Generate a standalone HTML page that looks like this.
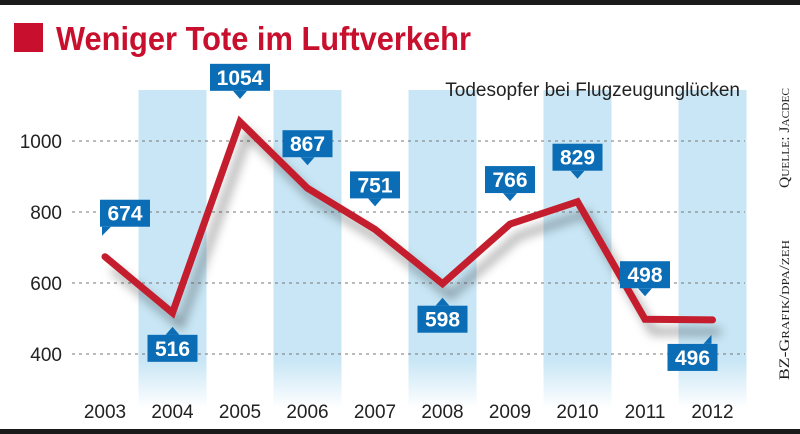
<!DOCTYPE html>
<html><head><meta charset="utf-8">
<style>
html,body{margin:0;padding:0;background:#fff;}
svg{display:block;font-family:"Liberation Sans",sans-serif;}
</style></head>
<body>
<svg id="chart" width="800" height="434" viewBox="0 0 800 434">
<defs>
 <linearGradient id="bandg" x1="0" y1="0" x2="0" y2="1">
  <stop offset="0" stop-color="#c8e6f5"/><stop offset="0.85" stop-color="#c8e6f5"/><stop offset="1" stop-color="#c8e6f5" stop-opacity="0"/>
 </linearGradient>
 <filter id="shadow" x="-10%" y="-10%" width="130%" height="140%"><feGaussianBlur stdDeviation="5"/></filter>
</defs>
<rect x="0" y="0" width="800" height="5" fill="#1a1a1a"/>
<rect x="0" y="429" width="800" height="5" fill="#1a1a1a"/>
<rect x="14" y="23" width="29" height="29" fill="#c8102e"/>
<text x="56" y="50" font-size="33" font-weight="bold" fill="#c8102e" textLength="415" lengthAdjust="spacingAndGlyphs">Weniger Tote im Luftverkehr</text>
<g id="bands"></g>
<text x="740" y="96" font-size="19" fill="#222" text-anchor="end">Todesopfer bei Flugzeugunglücken</text>
<g id="grid"></g>
<g id="yticks"></g>
<g id="xticks"></g>
<g id="series"></g>
<g id="labels"></g>
<text transform="translate(789,188) rotate(-90)" font-family="Liberation Serif,serif" font-size="15" font-variant="small-caps" fill="#222" textLength="100" lengthAdjust="spacingAndGlyphs">Quelle: Jacdec</text>
<text transform="translate(789,380) rotate(-90)" font-family="Liberation Serif,serif" font-size="15" font-variant="small-caps" fill="#222" textLength="140" lengthAdjust="spacingAndGlyphs">BZ-Grafik/dpa/zeh</text>
</svg>
<script>
const years = ["2003","2004","2005","2006","2007","2008","2009","2010","2011","2012"];
const deaths = [674,516,1054,867,751,598,766,829,498,496];
const yTicks = [400,600,800,1000];
const labelSide = ["above","below","above","above","above","below","above","above","above","below"];

const NS="http://www.w3.org/2000/svg";
function xs(i){return 105+i*67.5;}
function ys(v){return 141+(1000-v)*0.355;}
function mk(tag,attrs,parent){const e=document.createElementNS(NS,tag);for(const k in attrs)e.setAttribute(k,attrs[k]);document.getElementById(parent).appendChild(e);return e;}

years.forEach((y,i)=>{
  if(i%2===1){
    const b=mk("rect",{x:xs(i)-34,y:90,width:68,height:318,fill:"url(#bandg)"},"bands");
    
    
  }
  const t=mk("text",{x:xs(i),y:418,"font-size":19,fill:"#222","text-anchor":"middle"},"xticks");
  t.textContent=y;
  
  
});
yTicks.forEach(v=>{
  const l=mk("line",{x1:72,x2:745,y1:ys(v),y2:ys(v),stroke:"#777","stroke-width":1,"stroke-dasharray":"3,4"},"grid");
  
  
  const t=mk("text",{x:62,y:ys(v)+7,"font-size":19,fill:"#222","text-anchor":"end"},"yticks");
  t.textContent=v;
  
  
});
const pts=deaths.map((v,i)=>xs(i)+","+ys(v)).join(" ");
const sh=mk("polyline",{points:pts,fill:"none",stroke:"#000","stroke-opacity":0.35,"stroke-width":7,filter:"url(#shadow)",transform:"translate(8,12)"},"series");


const ln=mk("polyline",{points:pts,fill:"none",stroke:"#c41e2e","stroke-width":7,"stroke-linejoin":"miter","stroke-linecap":"round"},"series");



deaths.forEach((v,i)=>{
  const px=xs(i),py=ys(v);
  const txt=String(v);
  const w=txt.length>3?60:50,h=27;
  let bx=px-w/2,by,ptr;
  if(i===0){bx=px-5;by=py-57;ptr=`${px-3},${by+h} ${px-3},${by+h+9} ${px+6},${by+h}`;}
  else if(i===9){bx=px-45;by=py+24;ptr=`${px-9},${by} ${px-1},${by-9} ${px-1},${by}`;}
  else if(labelSide[i]==="above"){by=py-58;ptr=`${px-7},${by+h} ${px},${by+h+8} ${px+7},${by+h}`;}
  else {by=py+22;ptr=`${px-7},${by} ${px},${by-8} ${px+7},${by}`;}
  const g=mk("g",{},"labels");
  
  
  const r=document.createElementNS(NS,"rect");
  r.setAttribute("x",bx);r.setAttribute("y",by);r.setAttribute("width",w);r.setAttribute("height",h);r.setAttribute("fill","#0a6db5");
  g.appendChild(r);
  const p=document.createElementNS(NS,"polygon");
  p.setAttribute("points",ptr);p.setAttribute("fill","#0a6db5");
  g.appendChild(p);
  const t=document.createElementNS(NS,"text");
  t.setAttribute("x",bx+w/2);t.setAttribute("y",by+21);t.setAttribute("font-size",21);t.setAttribute("font-weight","bold");t.setAttribute("fill","#fff");t.setAttribute("text-anchor","middle");
  t.textContent=txt;
  g.appendChild(t);
});
</script>
</body></html>
